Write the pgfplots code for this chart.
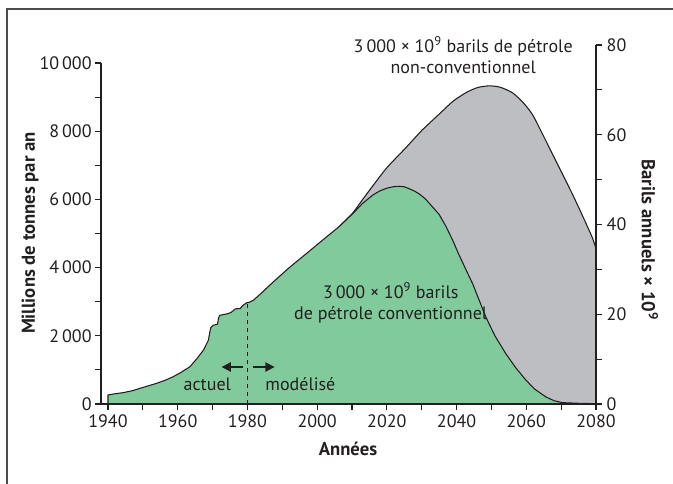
\documentclass[border=0pt]{standalone}
\usepackage{fontspec}
\setmainfont{PT Sans}
\usepackage{pgfplots}
\pgfplotsset{compat=1.18}
\usetikzlibrary{arrows.meta}
\definecolor{conv}{RGB}{128,202,156}
\definecolor{nonconv}{RGB}{189,190,194}
\definecolor{ink}{RGB}{35,31,32}
\newcommand{\fs}{\fontsize{13.5}{16}\selectfont}
\newcommand{\fl}{\fontsize{14}{16}\selectfont}
\begin{document}
\begin{tikzpicture}[x=0.75pt,y=0.75pt]
\begin{axis}[
  at={(0,0)}, anchor=south west,
  scale only axis, width=371.25pt, height=255.75pt,
  xmin=1938, xmax=2080, ymin=0, ymax=10000,
  axis x line*=bottom, axis y line*=left,
  axis line style={ink, line width=1pt, -},
  xtick={1940,1960,...,2080}, minor xtick={1950,1970,...,2070},
  ytick={0,2000,...,10000}, minor ytick={1000,3000,...,9000},
  scaled y ticks=false,
  tick align=outside, major tick length=4.5pt, minor tick length=4.5pt,
  tick style={ink, line width=0.8pt},
  x tick label style={/pgf/number format/1000 sep={}},
  y tick label style={/pgf/number format/1000 sep={\,}, xshift=1pt},
  /pgf/number format/assume math mode=true,
  ticklabel style={font=\fs, text=ink},
  clip=false,
]
% non-conventional (grey) area
\addplot[fill=nonconv, draw=none, smooth, tension=0.4] coordinates {
(2006.4,5210)(2010.2,5600)(2013,5990)(2016,6400)(2020,6930)(2025.5,7520)(2030,8020)(2035,8500)(2039,8880)(2042.7,9130)(2046,9280)(2049.4,9330)(2052.5,9290)(2056,9130)(2059,8850)(2061.7,8500)(2064.5,7950)(2067.5,7330)(2070.5,6720)(2073.2,6160)(2076,5550)(2078.9,4890)(2080,4550)
} \closedcycle;
\addplot[ink, line width=0.8pt, smooth, tension=0.4] coordinates {
(2006.4,5210)(2010.2,5600)(2013,5990)(2016,6400)(2020,6930)(2025.5,7520)(2030,8020)(2035,8500)(2039,8880)(2042.7,9130)(2046,9280)(2049.4,9330)(2052.5,9290)(2056,9130)(2059,8850)(2061.7,8500)(2064.5,7950)(2067.5,7330)(2070.5,6720)(2073.2,6160)(2076,5550)(2078.9,4890)(2080,4550)
};
% conventional (green) area
\addplot[fill=conv, draw=none] coordinates {
(1940,0)(1940,265)(1942,300)(1944.3,332)(1947,390)(1949.2,460)(1951.5,530)(1953.9,605)(1956.5,700)(1958.7,800)(1961,930)(1963.5,1093)(1965.5,1330)(1967.4,1580)(1968.8,1870)(1969.2,2100)(1969.5,2240)(1970.2,2310)(1971.4,2340)(1971.7,2500)(1972,2600)(1974.5,2650)(1975.5,2700)(1976.5,2790)(1977.9,2800)(1978.8,2900)(1979.8,2970)(1980.4,2980)(1981.7,3040)(1984.5,3300)(1987.3,3570)(1992,4000)(1996.9,4410)(2001.5,4800)(2006.4,5210)(2010.2,5580)(2013,5880)(2016,6130)(2018,6250)(2020,6330)(2022,6375)(2023.6,6385)(2025,6370)(2026.5,6310)(2028,6240)(2029.3,6160)(2031,6020)(2032.5,5850)(2035,5560)(2037,5200)(2038.9,4800)(2040.5,4420)(2042.5,3980)(2044.6,3530)(2046.5,3040)(2048.4,2550)(2051,2000)(2054.1,1480)(2057,1060)(2059.9,700)(2062.5,430)(2065.6,210)(2068,95)(2070.4,40)(2075,20)(2080,10)(2080,0)
} \closedcycle;
\addplot[ink, line width=0.8pt] coordinates {
(1940,0)(1940,265)(1942,300)(1944.3,332)(1947,390)(1949.2,460)(1951.5,530)(1953.9,605)(1956.5,700)(1958.7,800)(1961,930)(1963.5,1093)(1965.5,1330)(1967.4,1580)(1968.8,1870)(1969.2,2100)(1969.5,2240)(1970.2,2310)(1971.4,2340)(1971.7,2500)(1972,2600)(1974.5,2650)(1975.5,2700)(1976.5,2790)(1977.9,2800)(1978.8,2900)(1979.8,2970)(1980.4,2980)(1981.7,3040)(1984.5,3300)(1987.3,3570)(1992,4000)(1996.9,4410)(2001.5,4800)(2006.4,5210)(2010.2,5580)(2013,5880)(2016,6130)(2018,6250)(2020,6330)(2022,6375)(2023.6,6385)(2025,6370)(2026.5,6310)(2028,6240)(2029.3,6160)(2031,6020)(2032.5,5850)(2035,5560)(2037,5200)(2038.9,4800)(2040.5,4420)(2042.5,3980)(2044.6,3530)(2046.5,3040)(2048.4,2550)(2051,2000)(2054.1,1480)(2057,1060)(2059.9,700)(2062.5,430)(2065.6,210)(2068,95)(2070.4,40)(2075,20)(2080,10)
};
% redraw axis line on top
\draw[ink, line width=1pt] (axis cs:1938,0) -- (axis cs:2080,0);
% dashed separator
\draw[ink, dashed, line width=0.8pt] (axis cs:1980,0) -- (axis cs:1980,2975);
\draw[ink, line width=1.2pt, -{Triangle[length=7pt,width=7pt]}] (axis cs:1978.8,1085) -- (axis cs:1972.6,1085);
\draw[ink, line width=1.2pt, -{Triangle[length=7pt,width=7pt]}] (axis cs:1981.5,1085) -- (axis cs:1987.8,1085);
\node[text=ink, font=\fs] at (axis cs:1968.5,590) {actuel};
\node[text=ink, font=\fs] at (axis cs:1995.2,590) {modélisé};
\node[text=ink, font=\fs, align=center] at (axis cs:2021.1,2960) {3\,000 × 10\textsuperscript{9} barils\\de pétrole conventionnel};
\node[text=ink, font=\fs, align=center] at (axis cs:2041.9,10230) {3\,000 × 10\textsuperscript{9} barils de pétrole\\non-conventionnel};
\end{axis}
\begin{axis}[
  at={(0,0)}, anchor=south west,
  scale only axis, width=371.25pt, height=269.25pt,
  xmin=1938, xmax=2080, ymin=0, ymax=80,
  axis x line=none, axis y line*=right,
  axis line style={ink, line width=1pt, -},
  ytick={0,20,...,80}, minor ytick={10,30,50,70},
  tick align=outside, major tick length=4.5pt, minor tick length=4.5pt,
  tick style={ink, line width=0.8pt},
  /pgf/number format/assume math mode=true,
  ticklabel style={font=\fs, text=ink},
]
\end{axis}
% axis titles
\node[text=ink, font=\bfseries\fl, rotate=90] at (-71,171) {Millions de tonnes par an};
\node[text=ink, font=\bfseries\fl, rotate=-90] at (549,164) {Barils annuels × 10\textsuperscript{9}};
\node[text=ink, font=\bfseries\fl] at (247,-45) {Années};
% frame
\draw[black!70, line width=1.2pt] (-94,-90) -- (-94,395) -- (580,395);
\pgfresetboundingbox
\useasboundingbox (-101,-79) rectangle (572,404);
\end{tikzpicture}
\end{document}
